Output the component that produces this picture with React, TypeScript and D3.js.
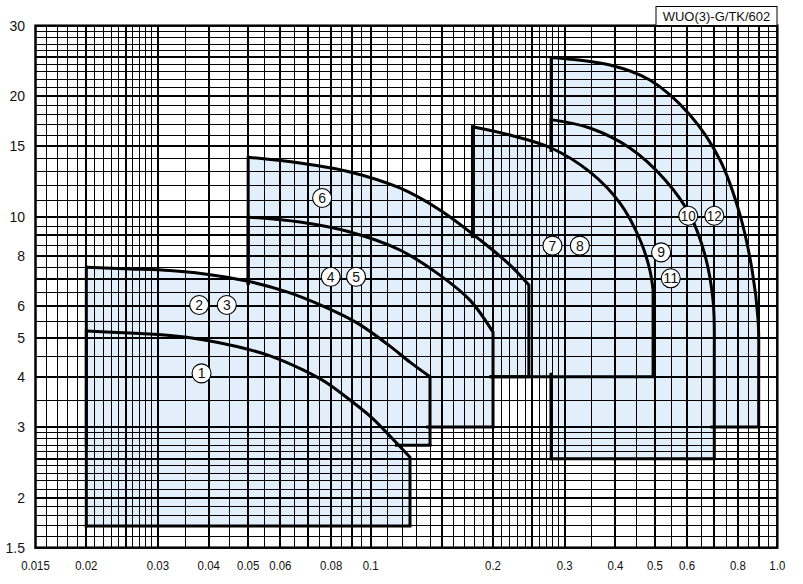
import React from "react";
import * as d3 from "d3";

const W = 803;
const H = 584;

// ---- axis ticks ----
const xTickValues = [0.015, 0.02, 0.03, 0.04, 0.05, 0.06, 0.08, 0.1, 0.2, 0.3, 0.4, 0.5, 0.6, 0.8, 1.0];
const xTickLabels = ["0.015", "0.02", "0.03", "0.04", "0.05", "0.06", "0.08", "0.1", "0.2", "0.3", "0.4", "0.5", "0.6", "0.8", "1.0"];
const yTickValues = [1.5, 2, 3, 4, 5, 6, 8, 10, 15, 20, 30];
const yTickLabels = ["1.5", "2", "3", "4", "5", "6", "8", "10", "15", "20", "30"];

// ---- grid ----
const xGridMajor = [0.02, 0.025, 0.03, 0.04, 0.05, 0.06, 0.07, 0.08, 0.09, 0.1, 0.15, 0.2, 0.25, 0.3, 0.4, 0.5, 0.6, 0.7, 0.8, 0.9];
const xGridMinor = [
  0.016, 0.017, 0.018, 0.019, 0.021, 0.022, 0.023, 0.024, 0.026, 0.027, 0.028, 0.029, 0.035, 0.045,
  0.055, 0.065, 0.075, 0.085, 0.095, 0.11, 0.12, 0.13, 0.14, 0.16, 0.17, 0.18, 0.19, 0.21, 0.22,
  0.23, 0.24, 0.26, 0.27, 0.28, 0.29, 0.35, 0.45, 0.55, 0.65, 0.75, 0.85, 0.95,
];
const yGridMajor = [2, 2.5, 3, 4, 5, 6, 7, 8, 9, 10, 15, 20, 25];
const yGridMinor = [
  1.6, 1.7, 1.8, 1.9, 2.1, 2.2, 2.3, 2.4, 2.6, 2.7, 2.8, 2.9, 3.5, 4.5, 5.5, 6.5, 7.5, 8.5, 9.5,
  11, 12, 13, 14, 16, 17, 18, 19, 21, 22, 23, 24, 26, 27, 28, 29,
];

// ---- performance curves (flow, head) ----
const curve1: [number, number][] = [
  [0.02, 5.2], [0.0256, 5.14], [0.0321, 5.07], [0.0387, 4.95], [0.0469, 4.76], [0.0566, 4.51],
  [0.0682, 4.16], [0.0781, 3.86], [0.089, 3.5], [0.1008, 3.16], [0.1129, 2.81], [0.125, 2.52],
];
const curve23: [number, number][] = [
  [0.02, 7.5], [0.0256, 7.43], [0.0321, 7.36], [0.0387, 7.23], [0.0497, 6.93], [0.0623, 6.51],
  [0.0764, 6.0], [0.0926, 5.45], [0.1116, 4.77], [0.125, 4.35], [0.14, 4.0],
];
const curve45: [number, number][] = [
  [0.05, 10.0], [0.067, 9.72], [0.089, 9.18], [0.118, 8.28], [0.148, 7.17], [0.1755, 6.21], [0.2, 5.17],
];
const curve6: [number, number][] = [
  [0.05, 14.1], [0.067, 13.64], [0.089, 12.96], [0.118, 11.82], [0.148, 10.42], [0.186, 8.77],
  [0.22, 7.6], [0.245, 6.77],
];
const curve78: [number, number][] = [
  [0.178, 16.8], [0.22, 16.02], [0.278, 14.87], [0.346, 12.96], [0.41, 10.85], [0.46, 8.77],
  [0.486, 7.38], [0.495, 6.58],
];
const curve911: [number, number][] = [
  [0.278, 17.5], [0.346, 16.68], [0.434, 14.87], [0.53, 12.38], [0.61, 10.12], [0.664, 8.04],
  [0.695, 6.21], [0.7, 4.8],
];
const curve1012: [number, number][] = [
  [0.278, 25.0], [0.388, 23.94], [0.486, 21.96], [0.61, 17.97], [0.723, 13.88], [0.81, 10.12],
  [0.867, 7.38], [0.897, 5.54], [0.9, 4.53],
];
const minHeads = [1.7, 2.7, 3.0, 4.0, 4.0, 2.5, 3.0];
const curves = [curve1, curve23, curve45, curve6, curve78, curve911, curve1012];
// regions whose interior hides the left / bottom edges of each region
const hideIn = [
  [1, 2, 3, 4, 5, 6],
  [0, 2, 3, 4, 5, 6],
  [0, 1, 3, 4, 5, 6],
  [0, 1, 2, 4, 5, 6],
  [0, 1, 2, 3],
  [0, 1, 2, 3, 4, 6],
  [0, 1, 2, 3, 4, 5],
];

// ---- circled labels ----
const labelTexts = ["1", "2", "3", "4", "5", "6", "7", "8", "9", "10", "11", "12"];
const labelFlows = [0.0384, 0.0379, 0.0443, 0.0798, 0.0921, 0.076, 0.28, 0.327, 0.518, 0.604, 0.547, 0.7];
const labelHeads = [4.08, 6.04, 6.04, 7.1, 7.1, 11.16, 8.49, 8.49, 8.17, 10.08, 7.04, 10.08];

const titleText = "WUO(3)-G/TK/602";

const FONT = "'Liberation Sans', Arial, Helvetica, sans-serif";
const FILL = "#e2eef9";

type P = [number, number];

function insideWithMargin(poly: P[], p: P, m: number) {
  const offs: P[] = [[0, 0], [m, 0], [-m, 0], [0, m], [0, -m]];
  return offs.every(([dx, dy]) => d3.polygonContains(poly, [p[0] + dx, p[1] + dy]));
}

function visibleRuns(a: P, b: P, polys: P[][]): [P, P][] {
  const len = Math.hypot(b[0] - a[0], b[1] - a[1]);
  const n = Math.max(2, Math.ceil(len * 2));
  const runs: [P, P][] = [];
  let start: P | null = null;
  let last: P | null = null;
  for (let k = 0; k <= n; k++) {
    const t = k / n;
    const p: P = [a[0] + (b[0] - a[0]) * t, a[1] + (b[1] - a[1]) * t];
    const vis = !polys.some((poly) => insideWithMargin(poly, p, 2.5));
    if (vis) {
      if (!start) start = p;
      last = p;
    } else if (start && last) {
      runs.push([start, last]);
      start = null;
    }
  }
  if (start && last) runs.push([start, last]);
  return runs.filter(([s, e]) => Math.hypot(e[0] - s[0], e[1] - s[1]) > 4);
}

export default function App() {
  const x = d3.scaleLog().domain([0.015, 1]).range([35.5, 777.3]);
  const y = d3.scaleLog().domain([1.5, 30]).range([547.7, 25.7]);
  const [x0, x1] = x.range();
  const [y0, y1] = y.range();

  const line = d3
    .line<[number, number]>()
    .x((d) => x(d[0]))
    .y((d) => y(d[1]))
    .curve(d3.curveCatmullRom.alpha(0.5));

  const regions = curves.map((c, i) => {
    const cp = line(c) as string;
    const xMin = c[0][0];
    const xMax = c[c.length - 1][0];
    const yMin = minHeads[i];
    const closed = `M${x(xMin)},${y(yMin)}L${cp.slice(1)}L${x(xMax)},${y(yMin)}Z`;
    const open = `${cp}L${x(xMax)},${y(yMin)}`;
    const poly: P[] = [[x(xMin), y(yMin)], ...c.map((d) => [x(d[0]), y(d[1])] as P), [x(xMax), y(yMin)]];
    const leftA: P = [x(xMin), y(yMin)];
    const leftB: P = [x(xMin), y(c[0][1])];
    const botB: P = [x(xMax), y(yMin)];
    return { closed, open, poly, leftA, leftB, botB };
  });

  const edgeSegs: [P, P][] = [];
  regions.forEach((r, i) => {
    const polys = hideIn[i].map((j) => regions[j].poly);
    edgeSegs.push(...visibleRuns(r.leftA, r.leftB, polys));
    edgeSegs.push(...visibleRuns(r.leftA, r.botB, polys));
  });

  return (
    <svg
      width={W}
      height={H}
      viewBox={`0 0 ${W} ${H}`}
      style={{ position: "absolute", left: 0, top: 0, background: "#fff" }}
    >
      <rect x={0} y={0} width={W} height={H} fill="#fff" />

      {/* region fills */}
      {regions.map((r, i) => (
        <path key={"f" + i} d={r.closed} fill={FILL} stroke="none" />
      ))}

      {/* grid */}
      <g stroke="#000" shapeRendering="crispEdges">
        {xGridMinor.map((v) => (
          <line key={"xm" + v} x1={x(v)} x2={x(v)} y1={y1} y2={y0} strokeWidth={1} />
        ))}
        {yGridMinor.map((v) => (
          <line key={"ym" + v} x1={x0} x2={x1} y1={y(v)} y2={y(v)} strokeWidth={1} />
        ))}
        {xGridMajor.map((v) => (
          <line key={"xM" + v} x1={x(v)} x2={x(v)} y1={y1} y2={y0} strokeWidth={2} />
        ))}
        {yGridMajor.map((v) => (
          <line key={"yM" + v} x1={x0} x2={x1} y1={y(v)} y2={y(v)} strokeWidth={2} />
        ))}
      </g>

      {/* left / bottom range edges (only where not covered) */}
      <g stroke="#000" strokeWidth={3} strokeLinecap="square">
        {edgeSegs.map(([a, b], k) => (
          <line key={"e" + k} x1={a[0]} y1={a[1]} x2={b[0]} y2={b[1]} />
        ))}
      </g>

      {/* performance curves */}
      {regions.map((r, i) => (
        <path key={"c" + i} d={r.open} fill="none" stroke="#000" strokeWidth={3} strokeLinejoin="miter" />
      ))}

      {/* plot border */}
      <rect x={x0} y={y1} width={x1 - x0} height={y0 - y1} fill="none" stroke="#000" strokeWidth={2.5} />

      {/* title box */}
      <rect x={656} y={6.5} width={121} height={19} fill="#fff" stroke="#000" strokeWidth={1} />
      <text x={716.5} y={21} textAnchor="middle" fontFamily={FONT} fontSize={13} fill="#111">
        {titleText}
      </text>

      {/* x tick labels */}
      {xTickValues.map((v, i) => (
        <text
          key={"xt" + i}
          x={x(v)}
          y={570}
          textAnchor="middle"
          fontFamily={FONT}
          fontSize={13}
          fill="#111"
          transform={`translate(${x(v)},0) scale(0.88,1) translate(${-x(v)},0)`}
        >
          {xTickLabels[i]}
        </text>
      ))}

      {/* y tick labels */}
      {yTickValues.map((v, i) => (
        <text key={"yt" + i} x={25} y={y(v) + 5} textAnchor="end" fontFamily={FONT} fontSize={14} fill="#111">
          {yTickLabels[i]}
        </text>
      ))}

      {/* circled labels */}
      {labelTexts.map((t, i) => {
        const cx = x(labelFlows[i]);
        const cy = y(labelHeads[i]);
        return (
          <g key={"l" + i}>
            <circle cx={cx} cy={cy} r={9.5} fill="#fff" stroke="#000" strokeWidth={1.1} />
            <text
              x={cx}
              y={cy + 5}
              textAnchor="middle"
              fontFamily={FONT}
              fontSize={14}
              fill="#111"
              textLength={t.length > 1 ? 15 : undefined}
              lengthAdjust="spacingAndGlyphs"
            >
              {t}
            </text>
          </g>
        );
      })}
    </svg>
  );
}
